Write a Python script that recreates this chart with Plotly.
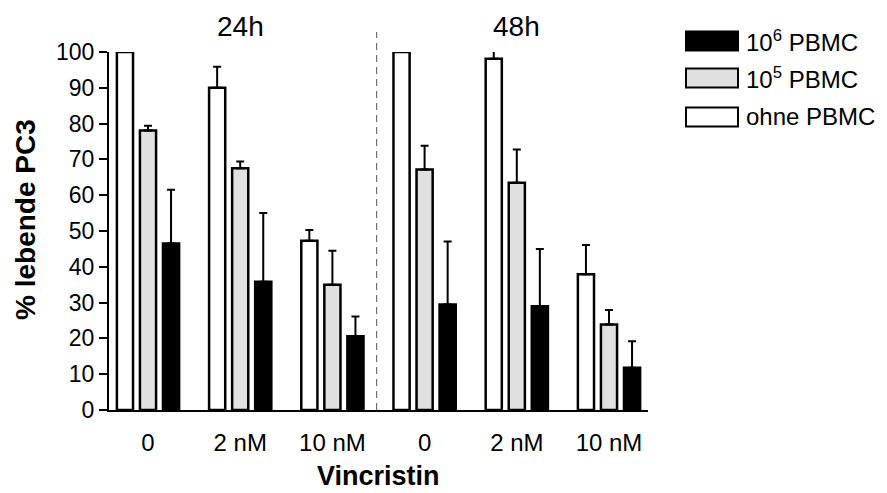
import plotly.graph_objects as go

# ---- data ----
tick_labels = ["0", "2 nM", "10 nM", "0", "2 nM", "10 nM"]
x_pos = [0, 1, 2, 3, 4, 5]
series_names = ["ohne PBMC", "10<sup>5</sup> PBMC", "10<sup>6</sup> PBMC"]
ohne_vals = [100, 90.0, 47.3, 100, 98.1, 37.9]
ohne_err = [0, 5.9, 3.0, 0, 2.4, 8.2]
p5_vals = [78.1, 67.5, 35.0, 67.2, 63.5, 23.9]
p5_err = [1.3, 1.9, 9.5, 6.6, 9.3, 4.0]
p6_vals = [46.5, 35.8, 20.6, 29.5, 29.0, 11.8]
p6_err = [15.0, 19.2, 5.5, 17.6, 16.0, 7.4]
time_labels = ["24h", "48h"]

FONT = "Liberation Sans, Arial, sans-serif"
fills = ["#ffffff", "#e0e0e0", "#000000"]
vals = [ohne_vals, p5_vals, p6_vals]
errs = [ohne_err, p5_err, p6_err]

fig = go.Figure()
for name, v, e, c in zip(series_names, vals, errs, fills):
    fig.add_trace(go.Bar(
        x=x_pos, y=v, name=name,
        marker=dict(color=c, line=dict(color="black", width=2.5)),
        error_y=dict(type="data", symmetric=False, array=e,
                     arrayminus=[0] * len(e), color="black",
                     thickness=2, width=4),
        cliponaxis=False, showlegend=False,
    ))

W, H = 887, 493
L, R, T, B = 109, 648, 52, 410

def px(xp):
    return (xp - L) / (R - L)

def py(yp):
    return (B - yp) / (B - T)

shapes = [
    dict(type="line", xref="x", yref="paper", x0=2.48, x1=2.48,
         y0=0, y1=py(32), line=dict(color="#555555", width=1, dash="7px,5px")),
]
annotations = []
# time titles
for xc, t in zip([1, 4], time_labels):
    annotations.append(dict(x=xc, y=py(26), xref="x", yref="paper", text=t,
                            showarrow=False, font=dict(size=28, color="black", family=FONT),
                            xanchor="center", yanchor="middle"))
# legend (manual)
leg_rows = [(41, "#000000", series_names[2]), (78, "#e0e0e0", series_names[1]),
            (117, "#ffffff", series_names[0])]
for yc, col, txt in leg_rows:
    shapes.append(dict(type="rect", xref="paper", yref="paper",
                       x0=px(686), x1=px(738), y0=py(yc + 9.5), y1=py(yc - 9.5),
                       fillcolor=col, line=dict(color="black", width=2)))
    annotations.append(dict(x=px(744), y=py(yc), xref="paper", yref="paper", text=txt,
                            showarrow=False, xanchor="left", yanchor="middle",
                            font=dict(size=24, color="black", family=FONT)))
# axis titles
annotations.append(dict(x=0.5, y=py(476), xref="paper", yref="paper", text="<b>Vincristin</b>",
                        showarrow=False, xanchor="center", yanchor="middle",
                        font=dict(size=27, color="black", family=FONT)))
annotations.append(dict(x=px(26), y=py(220), xref="paper", yref="paper", text="<b>% lebende PC3</b>",
                        showarrow=False, xanchor="center", yanchor="middle", textangle=-90,
                        font=dict(size=28, color="black", family=FONT)))

fig.update_layout(
    width=W, height=H,
    margin=dict(l=L, r=W - R, t=T, b=H - B),
    paper_bgcolor="white", plot_bgcolor="white",
    barmode="group", bargap=0.25, bargroupgap=0.3,
    font=dict(family=FONT, color="black"),
    shapes=shapes, annotations=annotations,
    xaxis=dict(range=[-0.423, 5.423], tickvals=x_pos, ticktext=tick_labels,
               showline=True, linecolor="black", linewidth=2, ticks="",
               showgrid=False, zeroline=False, ticklabelstandoff=10,
               tickfont=dict(size=24, color="black", family=FONT)),
    yaxis=dict(range=[0, 100], dtick=10, tick0=0, showline=True, linecolor="black",
               linewidth=2, ticks="outside", ticklen=8, tickwidth=2, tickcolor="black",
               showgrid=False, zeroline=False,
               tickfont=dict(size=23, color="black", family=FONT)),
)

fig.write_html("out.html")
